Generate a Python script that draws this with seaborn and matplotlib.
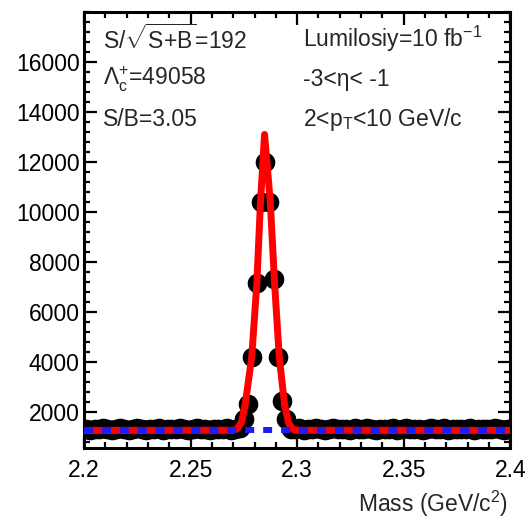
import numpy as np
import pandas as pd
import matplotlib
matplotlib.use("Agg")
import matplotlib.pyplot as plt
import seaborn as sns
from matplotlib.ticker import MultipleLocator

# --- data ---
# histogram: 100 bins of 0.002 GeV/c^2 from 2.2 to 2.4
bin_lo = 2.2
bin_width = 0.002
counts = [
    1310, 1290, 1330, 1300, 1350, 1320, 1280, 1310, 1340, 1300,
    1290, 1320, 1350, 1310, 1280, 1330, 1300, 1340, 1290, 1320,
    1310, 1300, 1350, 1330, 1290, 1310, 1340, 1300, 1320, 1290,
    1330, 1310, 1300, 1340, 1280, 1320, 1350, 1700, 2300, 4200,
    7150, 10400, 12000, 10400, 7300, 4200, 2450, 1700, 1320, 1300,
    1340, 1290, 1310, 1330, 1350, 1300, 1280, 1320, 1340, 1310,
    1300, 1330, 1290, 1350, 1320, 1300, 1340, 1310, 1280, 1330,
    1300, 1320, 1350, 1290, 1310, 1340, 1300, 1320, 1330, 1290,
    1310, 1350, 1300, 1320, 1340, 1280, 1310, 1330, 1300, 1320,
    1340, 1290, 1310, 1330, 1300, 1320, 1350, 1310, 1290, 1320,
]

# fitted total (signal + background), vertices
fit_mass = [2.200, 2.270, 2.2720, 2.2740, 2.2756, 2.2787, 2.2811, 2.2828,
            2.2847, 2.2874, 2.2894, 2.2916, 2.2941, 2.2960, 2.2980, 2.300, 2.400]
fit_vals = [1260, 1265, 1330, 1600, 2280, 4200, 7160, 10400,
            13100, 10400, 7160, 4200, 2280, 1550, 1300, 1265, 1260]

# fitted background (blue dashed)
bkg_mass = [2.200, 2.400]
bkg_vals = [1260, 1260]

left_text = [r"S/$\sqrt{\mathrm{S{+}B}}$=192", r"Λ$_{\mathrm{c}}^{+}$=49058", "S/B=3.05"]
right_text = [r"Lumilosiy=10 fb$^{-1}$", "-3<η< -1", r"2<p$_{\mathrm{T}}$<10 GeV/c"]

# --- plotting ---
n = len(counts)
centers = bin_lo + bin_width * (np.arange(n) + 0.5)
hist = pd.DataFrame({"mass": centers, "counts": counts})
fit = pd.DataFrame({"mass": fit_mass, "counts": fit_vals})
bkg = pd.DataFrame({"mass": bkg_mass, "counts": bkg_vals})

sns.set_theme(style="ticks")
plt.rcParams["font.family"] = ["Liberation Sans", "DejaVu Sans"]
plt.rcParams["mathtext.fontset"] = "custom"
plt.rcParams["mathtext.rm"] = "Liberation Sans"
plt.rcParams["mathtext.it"] = "Liberation Sans:italic"
plt.rcParams["mathtext.bf"] = "Liberation Sans:bold"

fig = plt.figure(figsize=(5.25, 5.22), dpi=100)
ax = fig.add_axes([0.16, 0.142, 0.812, 0.835])

sns.scatterplot(data=hist, x="mass", y="counts", ax=ax, color="black",
                s=200, edgecolor="black", linewidth=0, zorder=2, legend=False)
sns.lineplot(data=fit, x="mass", y="counts", ax=ax, color="red",
             linewidth=5.0, zorder=3, estimator=None, sort=False)
sns.lineplot(data=bkg, x="mass", y="counts", ax=ax, color="#1a1aff",
             linewidth=4.3, zorder=4, estimator=None, sort=False)
ax.lines[-1].set_dashes((1.5, 1.5))
ax.lines[-1].set_dash_capstyle("butt")

ax.set_xlim(2.2, 2.4)
ax.set_ylim(560, 18000)
ax.xaxis.set_minor_locator(MultipleLocator(0.01))
ax.yaxis.set_minor_locator(MultipleLocator(400))
ax.set_xticks([2.2, 2.25, 2.3, 2.35, 2.4])
ax.set_xticklabels(["2.2", "2.25", "2.3", "2.35", "2.4"])
ax.set_yticks(np.arange(2000, 17000, 2000))
ax.set_yticklabels([str(v) for v in range(2000, 17000, 2000)])

ax.tick_params(which="both", direction="in", top=True, right=True,
               width=1.6, labelsize=16.5, colors="black")
ax.tick_params(which="major", length=9)
ax.tick_params(which="minor", length=4.5)
ax.tick_params(axis="x", pad=8)
ax.tick_params(axis="y", pad=3)
for sp in ax.spines.values():
    sp.set_linewidth(2.2)
    sp.set_color("black")

ax.set_xlabel("")
ax.set_ylabel("")
fig.text(0.968, 0.006, r"Mass (GeV/c$^{2}$)", ha="right", va="bottom", fontsize=16.5)

for i, (lt, rt) in enumerate(zip(left_text, right_text)):
    y = 0.925 - i * 0.077
    fig.text(0.197, y, lt, ha="left", va="center", fontsize=16.5)
    fig.text(0.578, y, rt, ha="left", va="center", fontsize=16.5)

fig.savefig("out.png", dpi=100)
